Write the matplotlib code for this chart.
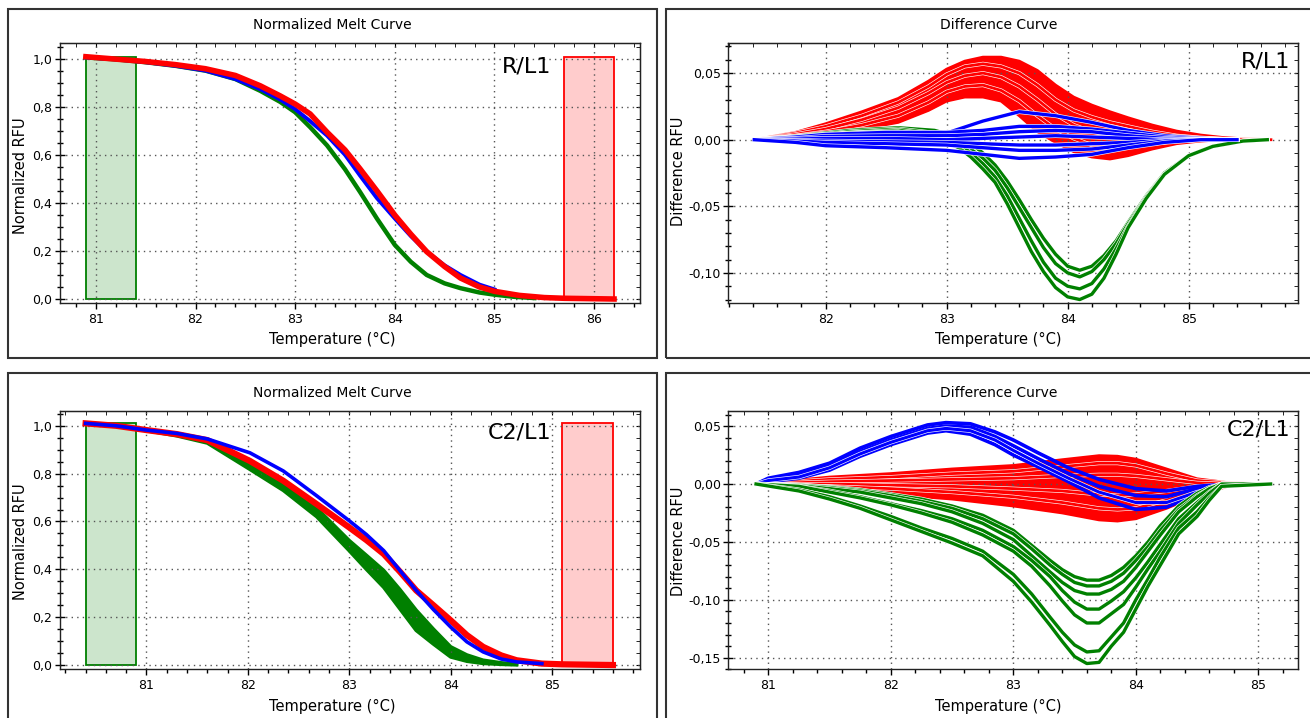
import matplotlib
matplotlib.use("Agg")
import matplotlib.pyplot as plt
import matplotlib.patheffects as pe
from matplotlib.patches import Rectangle
from matplotlib.ticker import MultipleLocator, FuncFormatter

RED = "#ff0000"
BLUE = "#0000ff"
GREEN = "#008000"

# ---------------- R/L1 : normalized melt curve ----------------
tl_temp = [80.9, 81.2, 81.5, 81.8, 82.1, 82.4, 82.65, 82.85, 83.0, 83.15, 83.32, 83.5, 83.65,
           83.82, 84.0, 84.16, 84.32, 84.5, 84.66, 84.85, 85.0, 85.25, 85.5, 85.7, 86.2]
tl_red = [1.008, 0.998, 0.988, 0.975, 0.958, 0.93, 0.887, 0.845, 0.811, 0.77, 0.694, 0.62, 0.542,
          0.45, 0.349, 0.27, 0.197, 0.135, 0.087, 0.05, 0.032, 0.015, 0.006, 0.003, 0.0]
tl_blue = [1.005, 0.997, 0.985, 0.97, 0.95, 0.915, 0.873, 0.83, 0.79, 0.74, 0.68, 0.60, 0.514,
           0.42, 0.335, 0.262, 0.197, 0.14, 0.10, 0.06, 0.04]
tl_green_temp = [80.9, 81.2, 81.5, 81.8, 82.1, 82.4, 82.65, 82.85, 83.0, 83.15, 83.32, 83.5, 83.65,
                 83.82, 84.0, 84.16, 84.32, 84.5, 84.66, 84.85, 85.0, 85.2, 85.4]
tl_green = [1.005, 0.997, 0.985, 0.97, 0.95, 0.915, 0.866, 0.82, 0.777, 0.715, 0.639, 0.54, 0.446,
            0.335, 0.225, 0.155, 0.10, 0.065, 0.045, 0.027, 0.018, 0.009, 0.004]
tl_pre_melt = (80.9, 81.4)
tl_post_melt = (85.7, 86.2)

# ---------------- R/L1 : difference curve ----------------
tr_red_temp = [81.41, 81.75, 82.0, 82.3, 82.6, 82.85, 83.0, 83.15, 83.3, 83.45, 83.6, 83.75,
               83.9, 84.05, 84.2, 84.35, 84.5, 84.7, 84.9, 85.1, 85.3, 85.5, 85.68]
tr_red_top = [0, 0.0055, 0.012, 0.021, 0.031, 0.044, 0.053, 0.059, 0.062, 0.062, 0.059, 0.052,
              0.041, 0.032, 0.026, 0.021, 0.0165, 0.011, 0.0065, 0.0035, 0.0015, 0.0005, 0]
tr_red_2 = [0, 0.005, 0.010, 0.018, 0.028, 0.040, 0.049, 0.055, 0.057, 0.055, 0.050, 0.041,
            0.030, 0.022, 0.017, 0.013, 0.010, 0.006, 0.003, 0.0015, 0.0005, 0, 0]
tr_red_3 = [0, 0.004, 0.008, 0.015, 0.024, 0.035, 0.043, 0.048, 0.050, 0.047, 0.040, 0.030,
            0.019, 0.011, 0.006, 0.004, 0.003, 0.002, 0.001, 0.0005, 0, 0, 0]
tr_red_4 = [0, 0.003, 0.006, 0.011, 0.018, 0.028, 0.036, 0.040, 0.041, 0.037, 0.029, 0.018,
            0.008, 0.001, -0.004, -0.006, -0.005, -0.003, -0.001, 0, 0, 0, 0]
tr_red_bot = [0, 0.002, 0.004, 0.008, 0.013, 0.022, 0.029, 0.032, 0.032, 0.029, 0.018, 0.006,
              -0.002, -0.009, -0.013, -0.0145, -0.012, -0.007, -0.003, -0.001, 0, 0, 0]

tr_green_temp = [81.41, 81.8, 82.2, 82.6, 82.9, 83.1, 83.2, 83.3, 83.4, 83.5, 83.6, 83.7, 83.8,
                 83.9, 84.0, 84.1, 84.2, 84.3, 84.4, 84.5, 84.65, 84.8, 85.0, 85.2, 85.45, 85.65]
tr_green_1 = [0, 0.003, 0.007, 0.009, 0.007, 0.002, -0.003, -0.010, -0.019, -0.031, -0.045, -0.060,
              -0.074, -0.086, -0.095, -0.098, -0.095, -0.087, -0.076, -0.062, -0.042, -0.025,
              -0.012, -0.005, -0.001, 0]
tr_green_2 = [0, 0.0025, 0.006, 0.008, 0.005, -0.001, -0.007, -0.014, -0.023, -0.036, -0.051, -0.066,
              -0.081, -0.093, -0.100, -0.103, -0.099, -0.090, -0.078, -0.063, -0.043, -0.025,
              -0.012, -0.005, -0.001, 0]
tr_green_3 = [0, 0.002, 0.005, 0.007, 0.004, -0.003, -0.010, -0.018, -0.028, -0.042, -0.059, -0.076,
              -0.092, -0.104, -0.110, -0.112, -0.108, -0.097, -0.082, -0.065, -0.043, -0.026,
              -0.012, -0.005, -0.001, 0]
tr_green_4 = [0, 0.002, 0.005, 0.006, 0.002, -0.006, -0.013, -0.022, -0.032, -0.048, -0.066, -0.084,
              -0.099, -0.111, -0.118, -0.120, -0.116, -0.104, -0.086, -0.066, -0.044, -0.026,
              -0.012, -0.005, -0.001, 0]

tr_blue_temp = [81.41, 81.75, 82.0, 82.5, 83.0, 83.3, 83.6, 83.9, 84.2, 84.5, 84.8, 85.1, 85.4]
tr_blue_1 = [0, 0.001, 0.002, 0.004, 0.005, 0.014, 0.021, 0.018, 0.013, 0.007, 0.003, 0.001, 0]
tr_blue_2 = [0, 0.002, 0.004, 0.0055, 0.0055, 0.007, 0.010, 0.010, 0.008, 0.005, 0.002, 0.0005, 0]
tr_blue_3 = [0, 0.001, 0.0025, 0.003, 0.003, 0.004, 0.006, 0.007, 0.006, 0.003, 0.001, 0, 0]
tr_blue_4 = [0, 0.0005, 0.001, 0.001, 0.0, 0.001, 0.002, 0.003, 0.002, 0.001, 0, 0, 0]
tr_blue_5 = [0, -0.0005, -0.001, -0.0015, -0.002, -0.003, -0.004, -0.004, -0.003, -0.002, -0.0005, 0, 0]
tr_blue_6 = [0, -0.001, -0.002, -0.003, -0.004, -0.006, -0.008, -0.008, -0.007, -0.004, -0.001, 0, 0]
tr_blue_7 = [0, -0.002, -0.0045, -0.006, -0.008, -0.011, -0.014, -0.013, -0.011, -0.006, -0.002, 0, 0]

# ---------------- C2/L1 : normalized melt curve ----------------
bl_temp = [80.4, 80.7, 81.0, 81.3, 81.6, 82.02, 82.35, 82.68, 83.0, 83.17, 83.34, 83.5, 83.66,
           83.83, 84.0, 84.16, 84.32, 84.5, 84.65, 84.9, 85.1, 85.6]
bl_red = [1.01, 1.0, 0.982, 0.965, 0.94, 0.853, 0.77, 0.672, 0.575, 0.522, 0.464, 0.39, 0.312,
          0.25, 0.187, 0.125, 0.076, 0.04, 0.02, 0.006, 0.003, 0.0]
bl_blue = [1.01, 1.0, 0.982, 0.968, 0.945, 0.887, 0.811, 0.707, 0.603, 0.545, 0.478, 0.395, 0.312,
           0.232, 0.159, 0.097, 0.055, 0.025, 0.013, 0.006]
bl_green_a = [1.01, 1.0, 0.982, 0.962, 0.935, 0.846, 0.76, 0.655, 0.52, 0.458, 0.395, 0.315, 0.229,
              0.15, 0.076, 0.042, 0.02, 0.009, 0.004]
bl_green_b = [1.01, 1.0, 0.98, 0.958, 0.928, 0.818, 0.73, 0.62, 0.478, 0.40, 0.325, 0.235, 0.145,
              0.088, 0.034, 0.016, 0.007, 0.003, 0.001]
bl_pre_melt = (80.4, 80.9)
bl_post_melt = (85.1, 85.6)

# ---------------- C2/L1 : difference curve ----------------
br_red_temp = [80.9, 81.5, 82.0, 82.5, 83.0, 83.4, 83.7, 83.85, 84.0, 84.25, 84.5, 84.75, 85.1]
br_red_top = [0, 0.006, 0.009, 0.013, 0.016, 0.021, 0.0245, 0.024, 0.0215, 0.013, 0.0045, 0.0012, 0]
br_red_2 = [0, 0.004, 0.006, 0.009, 0.011, 0.015, 0.018, 0.018, 0.016, 0.009, 0.003, 0.001, 0]
br_red_3 = [0, 0.002, 0.003, 0.004, 0.005, 0.007, 0.008, 0.008, 0.007, 0.004, 0.001, 0, 0]
br_red_4 = [0, 0.0, -0.001, -0.002, -0.004, -0.006, -0.009, -0.010, -0.009, -0.006, -0.002, 0, 0]
br_red_5 = [0, -0.002, -0.004, -0.007, -0.011, -0.016, -0.021, -0.022, -0.021, -0.014, -0.005, -0.001, 0]
br_red_bot = [0, -0.005, -0.009, -0.013, -0.019, -0.025, -0.031, -0.032, -0.030, -0.021, -0.010, -0.002, 0]

br_blue_temp = [80.9, 81.0, 81.25, 81.5, 81.75, 82.0, 82.3, 82.45, 82.65, 82.85, 83.0, 83.2, 83.45,
                83.7, 84.0, 84.25, 84.5, 84.75, 84.9]
br_blue_1 = [0, 0.005, 0.010, 0.018, 0.031, 0.041, 0.051, 0.053, 0.052, 0.045, 0.038, 0.027, 0.014,
             0.004, -0.004, -0.006, -0.002, 0.0, 0.0]
br_blue_2 = [0, 0.004, 0.008, 0.016, 0.028, 0.038, 0.048, 0.050, 0.049, 0.041, 0.033, 0.022, 0.009,
             -0.002, -0.010, -0.011, -0.004, 0.0, 0.0]
br_blue_3 = [0, 0.003, 0.006, 0.014, 0.026, 0.036, 0.046, 0.048, 0.046, 0.038, 0.029, 0.018, 0.005,
             -0.007, -0.016, -0.016, -0.007, -0.001, 0.0]
br_blue_4 = [0, 0.002, 0.005, 0.012, 0.024, 0.034, 0.044, 0.046, 0.043, 0.034, 0.025, 0.015, 0.002,
             -0.012, -0.022, -0.020, -0.009, -0.001, 0]

br_green_temp = [80.9, 81.25, 81.5, 81.75, 82.0, 82.25, 82.5, 82.75, 83.0, 83.15, 83.3, 83.4, 83.5,
                 83.6, 83.7, 83.8, 83.9, 84.0, 84.1, 84.2, 84.35, 84.5, 84.6, 84.7, 85.1]
br_green_1 = [0, -0.001, -0.0025, -0.005, -0.009, -0.013, -0.019, -0.027, -0.040, -0.053, -0.066,
              -0.074, -0.080, -0.083, -0.083, -0.079, -0.072, -0.062, -0.050, -0.036, -0.019,
              -0.008, -0.003, 0, 0]
br_green_2 = [0, -0.001, -0.003, -0.006, -0.010, -0.015, -0.021, -0.030, -0.043, -0.056, -0.070,
              -0.078, -0.085, -0.088, -0.088, -0.084, -0.077, -0.066, -0.054, -0.040, -0.022,
              -0.010, -0.004, 0, 0]
br_green_3 = [0, -0.0015, -0.004, -0.007, -0.012, -0.017, -0.024, -0.034, -0.048, -0.062, -0.076,
              -0.085, -0.092, -0.095, -0.095, -0.091, -0.084, -0.072, -0.058, -0.044, -0.024,
              -0.011, -0.004, 0, 0]
br_green_4 = [0, -0.002, -0.006, -0.011, -0.017, -0.023, -0.030, -0.040, -0.054, -0.066, -0.080,
              -0.092, -0.102, -0.108, -0.108, -0.101, -0.093, -0.081, -0.067, -0.052, -0.030,
              -0.016, -0.007, 0, 0]
br_green_5 = [0, -0.002, -0.007, -0.012, -0.018, -0.025, -0.033, -0.044, -0.058, -0.071, -0.088,
              -0.101, -0.113, -0.120, -0.120, -0.112, -0.104, -0.089, -0.073, -0.058, -0.034,
              -0.018, -0.008, 0, 0]
br_green_6 = [0, -0.005, -0.011, -0.019, -0.028, -0.038, -0.047, -0.058, -0.078, -0.095, -0.115,
              -0.128, -0.139, -0.145, -0.144, -0.132, -0.120, -0.100, -0.082, -0.063, -0.038,
              -0.024, -0.012, -0.002, 0]
br_green_7 = [0, -0.006, -0.013, -0.021, -0.031, -0.041, -0.051, -0.062, -0.084, -0.102, -0.122,
              -0.136, -0.149, -0.155, -0.154, -0.140, -0.128, -0.108, -0.088, -0.070, -0.043,
              -0.028, -0.014, -0.002, 0]


def comma_fmt(decimals):
    def f(v, pos):
        if abs(v) < 1e-9:
            v = 0.0
        return ("%.*f" % (decimals, v)).replace(".", ",")
    return FuncFormatter(f)


def style_axes(ax, xlim, ylim, ymajor, yminor, decimals):
    ax.set_xlim(xlim)
    ax.set_ylim(ylim)
    ax.xaxis.set_major_locator(MultipleLocator(1))
    ax.xaxis.set_minor_locator(MultipleLocator(0.2))
    ax.yaxis.set_major_locator(MultipleLocator(ymajor))
    ax.yaxis.set_minor_locator(MultipleLocator(yminor))
    ax.yaxis.set_major_formatter(comma_fmt(decimals))
    ax.grid(True, which="major", color="#555555", linestyle=(0, (1, 3)), lw=1.0)
    ax.tick_params(axis="x", which="major", direction="out", length=4, width=1, labelsize=9, pad=3)
    ax.tick_params(axis="x", which="minor", direction="out", length=3, width=1)
    ax.tick_params(axis="y", which="major", direction="inout", length=7, width=1, labelsize=9, pad=2)
    ax.tick_params(axis="y", which="minor", direction="inout", length=4, width=1)
    for s in ax.spines.values():
        s.set_color("#222222")
        s.set_linewidth(1.0)
    # small inward ticks on the top and right edges
    top = ax.secondary_xaxis("top")
    top.xaxis.set_major_locator(MultipleLocator(1))
    top.xaxis.set_minor_locator(MultipleLocator(0.2))
    top.tick_params(which="both", direction="in", length=3, labeltop=False)
    right = ax.secondary_yaxis("right")
    right.yaxis.set_major_locator(MultipleLocator(ymajor))
    right.yaxis.set_minor_locator(MultipleLocator(yminor))
    right.tick_params(which="both", direction="in", length=3, labelright=False)


def curve(ax, t, v, color, lw=2.0, gap=True):
    effects = [pe.Stroke(linewidth=lw + 0.9, foreground="white"), pe.Normal()] if gap else None
    ax.plot(t, v, color=color, lw=lw, solid_joinstyle="round", path_effects=effects)


fig = plt.figure(figsize=(13.1, 7.18), dpi=100)

# outer panel frames
for x0, y0, w, h in [(0.0064, 0.5014, 0.4948, 0.4857), (0.5086, 0.5014, 0.5, 0.4857),
                     (0.0064, -0.02, 0.4948, 0.5), (0.5086, -0.02, 0.5, 0.5)]:
    fig.add_artist(Rectangle((x0, y0), w, h, transform=fig.transFigure, fill=False,
                             edgecolor="#333333", lw=1.5))

ax_tl = fig.add_axes([0.0458, 0.578, 0.4427, 0.3621])
ax_tr = fig.add_axes([0.556, 0.578, 0.4345, 0.3621])
ax_bl = fig.add_axes([0.0458, 0.0682, 0.4427, 0.3598])
ax_br = fig.add_axes([0.556, 0.0678, 0.4345, 0.3602])

# R/L1 melt
style_axes(ax_tl, (80.64, 86.46), (-0.0166, 1.065), 0.2, 0.05, 1)
ax_tl.add_patch(Rectangle((tl_pre_melt[0], 0), tl_pre_melt[1] - tl_pre_melt[0], 1.008,
                          facecolor=(0, 0.5, 0, 0.2), edgecolor=GREEN, lw=1.3))
ax_tl.add_patch(Rectangle((tl_post_melt[0], 0), tl_post_melt[1] - tl_post_melt[0], 1.008,
                          facecolor=(1, 0, 0, 0.2), edgecolor=RED, lw=1.3))
ax_tl.plot(tl_green_temp, tl_green, color=GREEN, lw=3.2)
ax_tl.plot(tl_temp[:len(tl_blue)], tl_blue, color=BLUE, lw=2.8)
ax_tl.plot(tl_temp, tl_red, color=RED, lw=4.0)
ax_tl.text(0.847, 0.908, "R/L1", transform=ax_tl.transAxes, ha="right", va="center", fontsize=16)

# R/L1 difference
style_axes(ax_tr, (81.196, 85.90), (-0.1226, 0.0726), 0.05, 0.01, 2)
ax_tr.fill_between(tr_red_temp, tr_red_bot, tr_red_top, color=RED, lw=0)
curve(ax_tr, tr_red_temp, tr_red_top, RED, gap=False)
curve(ax_tr, tr_red_temp, tr_red_bot, RED, gap=False)
for vals in (tr_red_2, tr_red_3, tr_red_4):
    curve(ax_tr, tr_red_temp, vals, RED)
for vals in (tr_green_1, tr_green_2, tr_green_3, tr_green_4):
    curve(ax_tr, tr_green_temp, vals, GREEN, lw=2.4)
for vals in (tr_blue_1, tr_blue_2, tr_blue_3, tr_blue_4, tr_blue_5, tr_blue_6, tr_blue_7):
    curve(ax_tr, tr_blue_temp, vals, BLUE, lw=2.4)
ax_tr.text(0.987, 0.927, "R/L1", transform=ax_tr.transAxes, ha="right", va="center", fontsize=16)

# C2/L1 melt
style_axes(ax_bl, (80.147, 85.867), (-0.0167, 1.063), 0.2, 0.05, 1)
ax_bl.add_patch(Rectangle((bl_pre_melt[0], 0), bl_pre_melt[1] - bl_pre_melt[0], 1.012,
                          facecolor=(0, 0.5, 0, 0.2), edgecolor=GREEN, lw=1.3))
ax_bl.add_patch(Rectangle((bl_post_melt[0], 0), bl_post_melt[1] - bl_post_melt[0], 1.012,
                          facecolor=(1, 0, 0, 0.2), edgecolor=RED, lw=1.3))
g_temp = bl_temp[:len(bl_green_a)]
ax_bl.fill_between(g_temp, bl_green_b, bl_green_a, color=GREEN, lw=0)
ax_bl.plot(g_temp, bl_green_a, color=GREEN, lw=2.6)
ax_bl.plot(g_temp, bl_green_b, color=GREEN, lw=2.6)
ax_bl.plot(bl_temp, bl_red, color=RED, lw=4.5)
ax_bl.plot(bl_temp[:len(bl_blue)], bl_blue, color=BLUE, lw=2.6)
ax_bl.text(0.847, 0.914, "C2/L1", transform=ax_bl.transAxes, ha="right", va="center", fontsize=16)

# C2/L1 difference
style_axes(ax_br, (80.674, 85.32), (-0.160, 0.0633), 0.05, 0.01, 2)
ax_br.fill_between(br_red_temp, br_red_bot, br_red_top, color=RED, lw=0)
curve(ax_br, br_red_temp, br_red_top, RED, gap=False)
curve(ax_br, br_red_temp, br_red_bot, RED, gap=False)
for vals in (br_red_2, br_red_3, br_red_4, br_red_5):
    curve(ax_br, br_red_temp, vals, RED)
for vals in (br_blue_1, br_blue_2, br_blue_4):
    curve(ax_br, br_blue_temp, vals, BLUE, lw=2.6, gap=False)
curve(ax_br, br_blue_temp, br_blue_3, BLUE, lw=2.2)
for vals in (br_green_1, br_green_2, br_green_3, br_green_4, br_green_5, br_green_6, br_green_7):
    curve(ax_br, br_green_temp, vals, GREEN, lw=2.4)
ax_br.text(0.987, 0.929, "C2/L1", transform=ax_br.transAxes, ha="right", va="center", fontsize=16)

# titles and axis labels
for x, y, s in [(0.254, 0.965, "Normalized Melt Curve"), (0.762, 0.965, "Difference Curve"),
                (0.254, 0.453, "Normalized Melt Curve"), (0.762, 0.453, "Difference Curve")]:
    fig.text(x, y, s, ha="center", va="center", fontsize=10)
for x, y in [(0.254, 0.5265), (0.762, 0.5265), (0.254, 0.0167), (0.762, 0.0167)]:
    fig.text(x, y, "Temperature (°C)", ha="center", va="center", fontsize=10.5)
for x, y, s in [(0.0153, 0.755, "Normalized RFU"), (0.518, 0.761, "Difference RFU"),
                (0.0153, 0.2456, "Normalized RFU"), (0.518, 0.2456, "Difference RFU")]:
    fig.text(x, y, s, ha="center", va="center", rotation=90, fontsize=10.5)

fig.savefig("out.png", dpi=100, facecolor="white")
